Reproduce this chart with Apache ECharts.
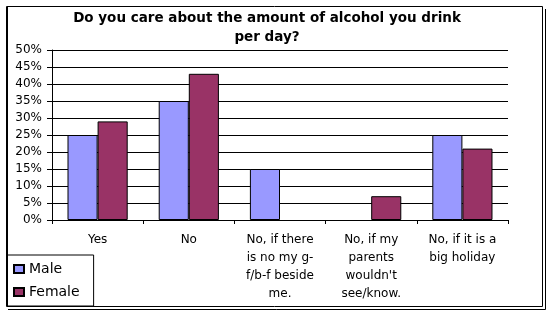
<!DOCTYPE html>
<html><head><meta charset="utf-8">
<script src="https://cdn.jsdelivr.net/npm/echarts@6/dist/echarts.min.js"></script>
<style>html,body{margin:0;padding:0;background:#fff}#c{width:552px;height:317px}</style>
</head><body><div id="c"></div>
<script>
const categories = ["Yes", "No", "No, if there\nis no my g-\nf/b-f beside\nme.", "No, if my\nparents\nwouldn't\nsee/know.", "No, if it is a\nbig holiday"];
const maleValues = [25, 35, 15, 0, 25];
const femaleValues = [29, 43, 0, 7, 21];
const yTicks = {min: 0, max: 50, interval: 5};
const titleText = "Do you care about the amount of alcohol you drink\nper day?";

// zero values are not drawn as bars in the reference
const toBar = v => (v === 0 ? '-' : v);

const chart = echarts.init(document.getElementById('c'), null, {renderer: 'canvas'});
const font = 'DejaVu Sans';
chart.setOption({
  animation: false,
  backgroundColor: '#fff',
  title: {
    text: titleText, left: 262, top: 4, textAlign: 'center',
    textStyle: {fontFamily: font, fontWeight: 'bold', fontSize: 13.5, color: '#000', lineHeight: 19}
  },
  grid: {left: 52, right: 44, top: 50, bottom: 97},
  legend: {
    orient: 'vertical', left: 7, top: 255, width: 70,
    padding: [7, 14, 7, 6], itemGap: 9,
    itemWidth: 10, itemHeight: 8,
    borderColor: '#000', borderWidth: 1, backgroundColor: '#fff',
    textStyle: {fontFamily: font, fontSize: 14, color: '#000', padding: [0, 0, 0, 0]},
    data: [{name: 'Male', icon: 'rect'}, {name: 'Female', icon: 'rect'}]
  },
  xAxis: {
    type: 'category', data: categories,
    axisLine: {lineStyle: {color: '#000', width: 1}},
    axisTick: {show: true, length: 4, lineStyle: {color: '#000'}},
    axisLabel: {interval: 0, fontFamily: font, fontSize: 12, color: '#000', lineHeight: 18, margin: 11, align: 'center'}
  },
  yAxis: {
    type: 'value', min: yTicks.min, max: yTicks.max, interval: yTicks.interval,
    axisLine: {show: true, lineStyle: {color: '#000'}},
    axisTick: {show: true, length: 5, lineStyle: {color: '#000'}},
    splitLine: {show: true, lineStyle: {color: '#000', width: 1}},
    axisLabel: {formatter: '{value}%', fontFamily: font, fontSize: 12, color: '#000', margin: 10}
  },
  series: [
    {name: 'Male', type: 'bar', data: maleValues.map(toBar), barGap: '0%', barCategoryGap: '34%',
     itemStyle: {color: '#9999FF', borderColor: '#000', borderWidth: 1}},
    {name: 'Female', type: 'bar', data: femaleValues.map(toBar), barGap: '0%', barCategoryGap: '34%',
     itemStyle: {color: '#993366', borderColor: '#000', borderWidth: 1}}
  ],
  graphic: [
    {type: 'rect', shape: {x: 6.5, y: 6.5, width: 536, height: 300}, style: {fill: null, stroke: '#000', lineWidth: 1}, silent: true, z: 100},
    {type: 'line', shape: {x1: 7.5, y1: 6, x2: 7.5, y2: 307}, style: {stroke: '#000', lineWidth: 1}, silent: true, z: 100},
    {type: 'polyline', shape: {points: [[545.5, 9], [545.5, 309.5], [8, 309.5]]}, style: {fill: null, stroke: '#000', lineWidth: 1}, silent: true, z: 100}
  ]
});
</script></body></html>
